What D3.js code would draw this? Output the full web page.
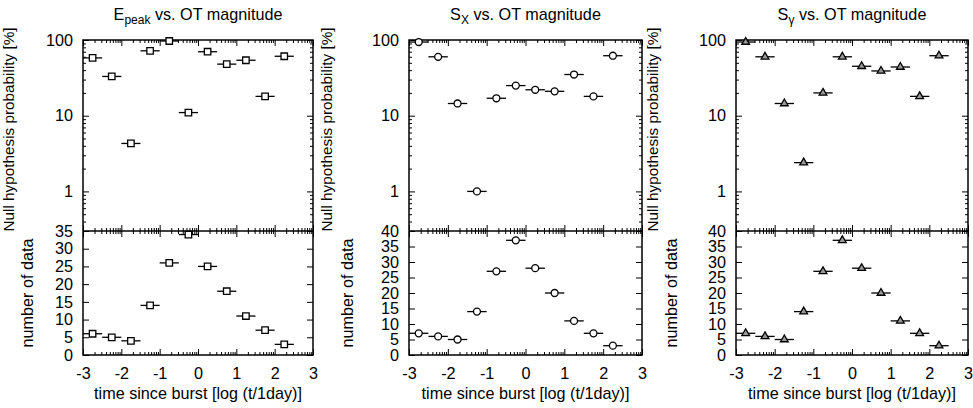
<!DOCTYPE html>
<html>
<head>
<meta charset="utf-8">
<script src="https://cdn.jsdelivr.net/npm/d3@7"></script>
<style>
  body { margin: 0; background: #fff; }
  text { font-family: "Liberation Sans", Arial, sans-serif; fill: #000; }
</style>
</head>
<body>
<div id="output"></div>
<script>
    var W = 973, H = 408;
    var fontSize = 16.2;

    // bin centres (log t/1day), each bin is 0.5 wide
    var xBins = [-2.75, -2.25, -1.75, -1.25, -0.75, -0.25, 0.25, 0.75, 1.25, 1.75, 2.25];
    var xHalf = 0.25;

    var epeakProb = [58, 33, 4.3, 72, 97, 11, 70, 48, 54, 18, 61];
    var epeakN = [6, 5, 4, 14, 26, 34, 25, 18, 11, 7, 3];

    var sxProb = [94, 60, 14.5, 1.0, 17, 25, 22, 21, 35, 18, 62];
    var sxN = [7, 6, 5, 14, 27, 37, 28, 20, 11, 7, 3];

    var sgProb = [94, 60, 14.5, 2.4, 20, 60, 45, 39, 44, 18, 62];
    var sgN = [7, 6, 5, 14, 27, 37, 28, 20, 11, 7, 3];

    var xTicks = [-3, -2, -1, 0, 1, 2, 3];
    var probTicks = [1, 10, 100];

    var panels = [
        {title: 'E', sub: 'peak', prob: epeakProb, n: epeakN, nMax: 35, marker: 'square',
         left: 83, right: 313, nullX: 14, numX: 33},
        {title: 'S', sub: 'X', prob: sxProb, n: sxN, nMax: 40, marker: 'circle',
         left: 409, right: 642, nullX: 332, numX: 353},
        {title: 'S', sub: 'γ', prob: sgProb, n: sgN, nMax: 40, marker: 'triangle',
         left: 736, right: 968, nullX: 658, numX: 677}
    ];

    var topY = 40, midY = 231, botY = 355;

    var svg = d3.select('#output').append('svg')
        .attr('width', W)
        .attr('height', H);

    var symbols = {
        square: d3.symbol().type(d3.symbolSquare).size(42),
        circle: d3.symbol().type(d3.symbolCircle).size(38),
        triangle: d3.symbol().type(d3.symbolTriangle).size(26)
    };

    // log style minor ticks between integer x values
    var xMinor = [];
    for (var i = -3; i < 3; i++) {
        for (var k = 2; k <= 9; k++) xMinor.push(i + Math.log10(k));
    }
    var probMinor = [];
    [0.1, 1, 10].forEach(function(d) {
        for (var k = 2; k <= 9; k++) {
            var v = d * k;
            if (v >= 0.3 && v < 100) probMinor.push(v);
        }
    });

    var styleAxis = function(g) {
        g.select('.domain').remove();
        g.selectAll('line').attr('stroke', '#000').attr('stroke-width', 1);
        g.selectAll('text')
            .style('font-family', '"Liberation Sans", Arial, sans-serif')
            .style('font-size', fontSize + 'px')
            .attr('fill', '#000');
    };

    var drawPanel = function(p) {
        var x = d3.scaleLinear().domain([-3, 3]).range([p.left, p.right]);
        var yP = d3.scaleLog().domain([0.3, 100]).range([midY, topY]);
        var yN = d3.scaleLinear().domain([0, p.nMax]).range([botY, midY]);
        var g = svg.append('g');

        // x ticks: top edge, both sides of the shared line, bottom edge (all inward)
        [[topY, d3.axisTop], [midY, d3.axisBottom], [midY, d3.axisTop], [botY, d3.axisBottom]]
            .forEach(function(a) {
                var yy = a[0], fn = a[1];
                g.append('g').attr('transform', 'translate(0,' + yy + ')')
                    .call(fn(x).tickValues(xMinor).tickSize(-3).tickSizeOuter(0).tickFormat(''))
                    .call(styleAxis);
                var ax = g.append('g').attr('transform', 'translate(0,' + yy + ')')
                    .call(fn(x).tickValues(xTicks).tickSize(-6).tickSizeOuter(0)
                        .tickFormat(yy === botY ? d3.format('d') : '').tickPadding(12))
                    .call(styleAxis);
                if (yy === botY) {
                    ax.selectAll('text').text(function(d) { return d < 0 ? '-' + Math.abs(d) : d; });
                }
            });

        // upper panel y (log)
        g.append('g').attr('transform', 'translate(' + p.left + ',0)')
            .call(d3.axisLeft(yP).tickValues(probTicks).tickSize(-6).tickSizeOuter(0)
                .tickFormat(d3.format('d')).tickPadding(10))
            .call(styleAxis);
        g.append('g').attr('transform', 'translate(' + p.left + ',0)')
            .call(d3.axisLeft(yP).tickValues(probMinor).tickSize(-3).tickSizeOuter(0).tickFormat(''))
            .call(styleAxis);
        g.append('g').attr('transform', 'translate(' + p.right + ',0)')
            .call(d3.axisRight(yP).tickValues(probTicks).tickSize(-6).tickSizeOuter(0).tickFormat(''))
            .call(styleAxis);
        g.append('g').attr('transform', 'translate(' + p.right + ',0)')
            .call(d3.axisRight(yP).tickValues(probMinor).tickSize(-3).tickSizeOuter(0).tickFormat(''))
            .call(styleAxis);

        // lower panel y
        var nTicks = d3.range(0, p.nMax + 1, 5);
        g.append('g').attr('transform', 'translate(' + p.left + ',0)')
            .call(d3.axisLeft(yN).tickValues(nTicks).tickSize(-6).tickSizeOuter(0)
                .tickFormat(d3.format('d')).tickPadding(10))
            .call(styleAxis);
        g.append('g').attr('transform', 'translate(' + p.right + ',0)')
            .call(d3.axisRight(yN).tickValues(nTicks).tickSize(-6).tickSizeOuter(0).tickFormat(''))
            .call(styleAxis);

        // frames
        g.append('rect')
            .attr('x', p.left).attr('y', topY)
            .attr('width', p.right - p.left).attr('height', botY - topY)
            .attr('fill', 'none').attr('stroke', '#000').attr('stroke-width', 1.5);
        g.append('line')
            .attr('x1', p.left).attr('x2', p.right)
            .attr('y1', midY).attr('y2', midY)
            .attr('stroke', '#000').attr('stroke-width', 1.5);

        var drawSeries = function(vals, y) {
            var s = g.append('g');
            vals.forEach(function(v, j) {
                var cx = xBins[j];
                s.append('line')
                    .attr('x1', x(cx - xHalf)).attr('x2', x(cx + xHalf))
                    .attr('y1', y(v)).attr('y2', y(v))
                    .attr('stroke', '#000').attr('stroke-width', 1.3);
                s.append('path')
                    .attr('d', symbols[p.marker]())
                    .attr('transform', 'translate(' + x(cx) + ',' + y(v) + ')')
                    .attr('fill', p.marker === 'triangle' ? '#999' : '#fff')
                    .attr('stroke', '#000').attr('stroke-width', 1.3);
            });
        };
        drawSeries(p.prob, yP);
        drawSeries(p.n, yN);

        // texts
        var cxm = (p.left + p.right) / 2;
        var t = g.append('text')
            .attr('x', cxm).attr('y', 20)
            .attr('text-anchor', 'middle')
            .style('font-size', fontSize + 'px');
        t.append('tspan').text(p.title);
        t.append('tspan').attr('dy', 4).style('font-size', '12px').text(p.sub);
        t.append('tspan').attr('dy', -4).text(' vs. OT magnitude');

        g.append('text')
            .attr('x', cxm).attr('y', 399)
            .attr('text-anchor', 'middle')
            .style('font-size', fontSize + 'px')
            .text('time since burst [log (t/1day)]');

        g.append('text')
            .attr('transform', 'translate(' + p.nullX + ',' + ((topY + midY) / 2 - 6) + ') rotate(-90)')
            .attr('text-anchor', 'middle')
            .style('font-size', '15.3px')
            .text('Null hypothesis probability [%]');

        g.append('text')
            .attr('transform', 'translate(' + p.numX + ',' + ((midY + botY) / 2) + ') rotate(-90)')
            .attr('text-anchor', 'middle')
            .style('font-size', fontSize + 'px')
            .text('number of data');
    };

    panels.forEach(drawPanel);
</script>
</body>
</html>
